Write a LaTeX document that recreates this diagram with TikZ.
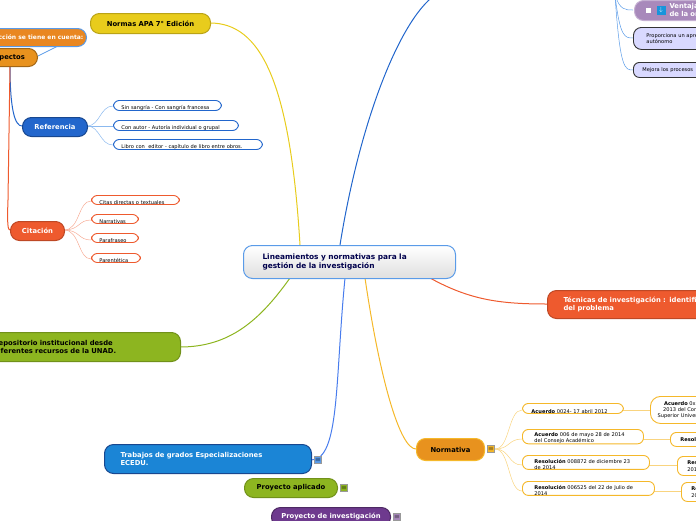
\documentclass[tikz,border=0pt]{standalone}
\usepackage{fontspec}
\setmainfont{DejaVu Sans}
\begin{document}
\begin{tikzpicture}[x=1pt,y=-1pt,
 main/.style={rounded corners=9pt,font=\fontsize{6.8}{8}\selectfont\bfseries,line width=1pt,anchor=north west,inner sep=0pt,align=center},
 lmain/.style={main,align=left,inner xsep=#1},
 leaf/.style={rounded corners=6pt,draw,line width=0.9pt,fill=white,font=\fontsize{5.1}{6.3}\selectfont,anchor=north west,inner sep=0pt,align=left,text width=#1},
 ic/.style={fill=#1,draw=black!40,minimum size=7pt,inner sep=0pt,font=\fontsize{6}{6}\selectfont,text=black},
 con/.style={line width=#1}]
\useasboundingbox (0,0) rectangle (696,520);
\definecolor{yel}{HTML}{E8CC1C}\definecolor{org}{HTML}{E8921E}\definecolor{blu}{HTML}{2266CC}
\definecolor{red}{HTML}{EE5A2E}\definecolor{grn}{HTML}{8DB520}\definecolor{pur}{HTML}{6E3A8E}
\definecolor{lblu}{HTML}{5A9BE8}\definecolor{ylin}{HTML}{F5B82A}
% connectors first
\coordinate (top) at (435,-5);
\draw[con=1pt,blu] (340,245) .. controls (360,120) and (400,20) .. (top);
\draw[con=1pt,yel] (300,245) .. controls (290,80) and (260,23) .. (210,23);
\draw[con=1pt,red] (430,278) .. controls (470,300) and (500,304) .. (547,304);
\draw[con=1pt,grn] (290,278) .. controls (260,320) and (230,347) .. (180,347);
\draw[con=1pt,lblu!80!blue] (345,278) .. controls (335,380) and (340,460) .. (311,460);
\draw[con=1pt,ylin] (365,278) .. controls (380,380) and (400,449) .. (416,449);
\draw[con=1pt,blu] (10,66) .. controls (10,110) and (15,126) .. (22,126);
\draw[con=1pt,red] (10,66) -- (8,200) .. controls (7,225) and (8,230) .. (10,230);
\draw[con=0.7pt,lblu] (38,56) -- (60,45);
\draw[con=0.5pt,lblu!70] (87,126) .. controls (100,126) and (100,106) .. (113,106);
\draw[con=0.5pt,lblu!70] (87,126) -- (113,126);
\draw[con=0.5pt,lblu!70] (87,126) .. controls (100,126) and (100,145) .. (113,145);
\foreach \y in {201,220,240,259}{\draw[con=0.5pt,red!50] (64,230) .. controls (80,230) and (78,\y) .. (91,\y);}
\foreach \y in {410,439,465,491}{\draw[con=0.5pt,ylin!60] (495,449) .. controls (510,449) and (508,\y) .. (522,\y);}
\draw[con=0.5pt,ylin!60] (623,410) -- (650,410);
\draw[con=0.5pt,ylin!60] (643,439) -- (670,439);
\draw[con=0.5pt,ylin!60] (649,465) -- (677,465);
\draw[con=0.5pt,ylin!60] (654,491) -- (681,491);
\foreach \y in {10,38,70}{\draw[con=0.5pt,lblu] (615,-5) .. controls (620,\y) and (625,\y) .. (633,\y);}
% main nodes
\node[lmain=19pt,draw=lblu,top color=white,bottom color=gray!25,text width=174pt,minimum height=33pt,text=blue!30!black,font=\fontsize{7.4}{9}\selectfont\bfseries] (c) at (243,245) {Lineamientos y normativas para la\\gestión de la investigación};
\node[main,fill=yel,draw=yel!80!black,minimum width=120pt,minimum height=20pt] (apa) at (90,13) {Normas APA 7° Edición};
\node[main,fill=org!80!red,draw=lblu,minimum width=125pt,minimum height=18pt,text=white,anchor=north east,font=\fontsize{6}{7}\selectfont\bfseries] (red1) at (87,28) {En la redacción se tiene en cuenta:};
\node[main,fill=org,draw=org!70!black,minimum width=60pt,minimum height=18pt,anchor=north east] (asp) at (38,48) {Aspectos};
\node[main,fill=blu,draw=blu!70!black,minimum width=65pt,minimum height=19pt,text=white] (ref) at (22,117) {Referencia};
\node[leaf=108pt,draw=blu] (r1) at (113,100) {\rule{0pt}{9pt}\hspace{8pt}Sin sangría - Con sangría francesa};
\node[leaf=125pt,draw=blu] (r2) at (113,120) {\rule{0pt}{9pt}\hspace{8pt}Con autor - Autoría individual o grupal};
\node[leaf=149pt,draw=blu] (r3) at (113,139) {\rule{0pt}{9pt}\hspace{8pt}Libro con\ \ editor - capítulo de libro entre obros.};
\node[main,fill=red,draw=red!80!black,minimum width=54pt,minimum height=19pt,text=white] (cit) at (10,221) {Citación};
\node[leaf=88pt,draw=red] (c1) at (91,195) {\rule{0pt}{9pt}\hspace{8pt}Citas directas o textuales};
\node[leaf=47pt,draw=red] (c2) at (91,214) {\rule{0pt}{9pt}\hspace{8pt}Narrativas};
\node[leaf=47pt,draw=red] (c3) at (91,233) {\rule{0pt}{9pt}\hspace{8pt}Parafraseo};
\node[leaf=49pt,draw=red] (c4) at (91,253) {\rule{0pt}{9pt}\hspace{8pt}Parentética};
\node[lmain=8pt,fill=grn,draw=grn!80!black,text width=179pt,minimum height=29pt] (rep) at (-15,332) {Repositorio institucional desde\\diferentes recursos de la UNAD.};
\node[lmain=16pt,fill=blu!80!cyan,draw=blu!70!black,text width=175pt,minimum height=29pt,text=white] (tra) at (104,444) {Trabajos de grados Especializaciones\\ECEDU.};
\node[ic=lblu] at (318,460) {$\equiv$};
\node[main,fill=grn,draw=grn!80!black,minimum width=93pt,minimum height=19pt] (pa) at (244,478) {Proyecto aplicado};
\node[ic=grn] at (344,488) {$\equiv$};
\node[main,fill=pur,draw=pur!70!black,minimum width=119pt,minimum height=19pt,text=white] (pi) at (271,507) {Proyecto de investigación};
\node[ic=pur!60] at (397,517) {$\equiv$};
\node[main,fill=org,draw=ylin,minimum width=68pt,minimum height=22pt] (nor) at (416,438) {Normativa};
\node[ic=ylin] (nic) at (491,449) {$\equiv$};
\node[leaf=101pt,draw=ylin] (n1) at (522,403) {\rule{0pt}{10pt}\hspace{9pt}\textbf{Acuerdo} 0024- 17 abril 2012};
\node[leaf=121pt,draw=ylin] (n2) at (522,429) {\rule{0pt}{10pt}\hspace{12pt}\begin{minipage}{108pt}\textbf{Acuerdo} 006 de mayo 28 de 2014\\del Consejo Académico\end{minipage}};
\node[leaf=127pt,draw=ylin] (n3) at (522,455) {\rule{0pt}{10pt}\hspace{12pt}\begin{minipage}{112pt}\textbf{Resolución} 008872 de diciembre 23\\de 2014\end{minipage}};
\node[leaf=132pt,draw=ylin] (n4) at (522,481) {\rule{0pt}{10pt}\hspace{12pt}\begin{minipage}{117pt}\textbf{Resolución} 006525 del 22 de Julio de\\2014\end{minipage}};
\node[leaf=70pt,draw=ylin,minimum height=27pt,rounded corners=10pt,align=center] (m1) at (650,396) {\textbf{Acuerdo} 0xx de\\2013 del Consejo\\Superior Universitario};
\node[leaf=60pt,draw=ylin,minimum height=14pt] (m2) at (670,432) {\hspace{10pt}\textbf{Resolución}};
\node[leaf=60pt,draw=ylin,minimum height=19pt] (m3) at (677,456) {\hspace{10pt}\textbf{Resolución}\\\hspace{10pt}2014};
\node[leaf=60pt,draw=ylin,minimum height=19pt] (m4) at (681,482) {\hspace{10pt}\textbf{Resolución}\\\hspace{10pt}2014};
\node[lmain=16pt,fill=red,draw=red!80!black,text width=180pt,minimum height=28pt,text=white] (tec) at (547,290) {Técnicas de investigación : identificación\\del problema};
\node[lmain=35pt,fill=pur!60!white,draw=pur!40,text width=80pt,minimum height=20pt,text=white] (ven) at (634,0) {Ventajas\\de la organización};
\node[fill=blu!70!cyan,minimum size=9pt,inner sep=0pt,text=white,font=\fontsize{6}{6}\selectfont] at (661,10) {$\downarrow$};
\node[fill=white,minimum size=5pt,inner sep=0pt] at (648,10) {};
\node[leaf=110pt,draw=black!80,fill=blue!15,minimum height=22pt,rounded corners=8pt] (v1) at (633,27) {\hspace{13pt}Proporciona un aprendizaje\\\hspace{13pt}autónomo};
\node[leaf=90pt,draw=black!80,fill=blue!15,minimum height=15pt] (v2) at (633,62) {\hspace{9pt}Mejora los procesos};
\end{tikzpicture}
\end{document}
